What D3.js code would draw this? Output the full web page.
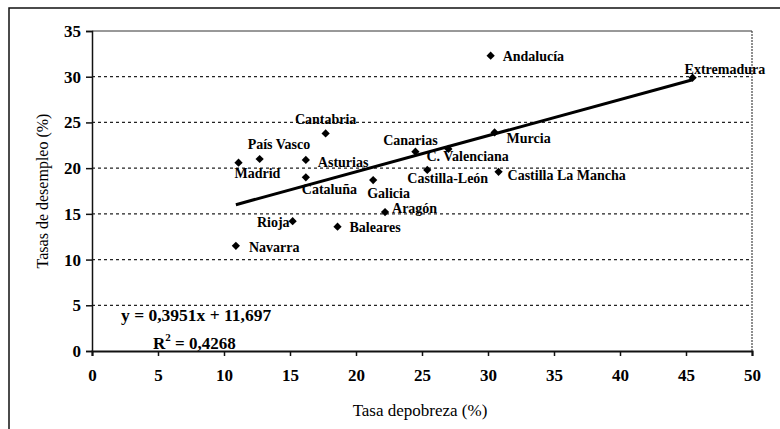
<!DOCTYPE html>
<meta charset="utf-8">
<style>
    body { margin: 0; background: #fff; }
    svg { font-family: 'Liberation Serif', 'Times New Roman', serif; }
</style>
<svg width="780" height="429"></svg>
<script src="https://d3js.org/d3.v7.min.js"></script>
<script>

    // data
    const regions = ["Andalucía", "Extremadura", "Murcia", "C. Valenciana", "Canarias", "Castilla-León",
        "Castilla La Mancha", "Cantabria", "País Vasco", "Madrid", "Asturias", "Cataluña",
        "Galicia", "Aragón", "Rioja", "Baleares", "Navarra"];
    const pobreza = [30.2, 45.5, 30.5, 27.0, 24.5, 25.4, 30.8, 17.7, 12.7, 11.1, 16.2, 16.2, 21.3, 22.2, 15.2, 18.6, 10.9];
    const desempleo = [32.3, 29.9, 23.9, 22.1, 21.8, 19.8, 19.6, 23.8, 21.0, 20.6, 20.9, 19.0, 18.7, 15.2, 14.2, 13.6, 11.5];
    const xTicks = [0, 5, 10, 15, 20, 25, 30, 35, 40, 45, 50];
    const yTicks = [0, 5, 10, 15, 20, 25, 30, 35];
    const slope = 0.3951, intercept = 11.697;
    const eqText = "y = 0,3951x + 11,697";
    const r2Text = "0,4268";

    // where each label sits around its point
    const labelPos = {
        "Andalucía": [12, 0, "start"],
        "Extremadura": [-8, -9, "start"],
        "Murcia": [12, 6, "start"],
        "C. Valenciana": [-22, 7, "start"],
        "Canarias": [-5, -12, "middle"],
        "Castilla-León": [-20, 8, "start"],
        "Castilla La Mancha": [9, 3, "start"],
        "Cantabria": [0, -14, "middle"],
        "País Vasco": [-12, -15, "start"],
        "Madrid": [-4, 10, "start"],
        "Asturias": [12, 2, "start"],
        "Cataluña": [-4, 12, "start"],
        "Galicia": [-6, 13, "start"],
        "Aragón": [7, -4, "start"],
        "Rioja": [-3, 1, "end"],
        "Baleares": [12, 0, "start"],
        "Navarra": [13, 1, "start"]
    };

    var svg = d3.select("svg");

    var x = d3.scaleLinear().domain([0, 50]).range([92, 752]);
    var y = d3.scaleLinear().domain([0, 35]).range([351, 31]);

    // outer frame (top and left edges only visible)
    svg.append("path").attr("d", "M9,429 L9,8 L780,8")
        .attr("fill", "none").attr("stroke", "#111").attr("stroke-width", 1.5);

    // gridlines
    svg.append("g").selectAll("line")
        .data(yTicks.filter(function (d) { return d > 0 && d < 35; }))
        .enter().append("line")
        .attr("x1", x(0)).attr("x2", x(50))
        .attr("y1", function (d) { return y(d); })
        .attr("y2", function (d) { return y(d); })
        .attr("stroke", "#222").attr("stroke-width", 1.2)
        .attr("stroke-dasharray", "3,3");

    // plot border top/right
    svg.append("line").attr("x1", x(0)).attr("x2", x(50)).attr("y1", y(35)).attr("y2", y(35))
        .attr("stroke", "#333").attr("stroke-width", 1);
    svg.append("line").attr("x1", x(50)).attr("x2", x(50)).attr("y1", y(35)).attr("y2", y(0))
        .attr("stroke", "#444").attr("stroke-width", 1.2).attr("stroke-dasharray", "2,1");

    // axes
    var xAxis = svg.append("g").attr("transform", "translate(0," + y(0) + ")")
        .call(d3.axisBottom(x).tickValues(xTicks).tickSize(5).tickPadding(13));
    var yAxis = svg.append("g").attr("transform", "translate(" + x(0) + ",0)")
        .call(d3.axisLeft(y).tickValues(yTicks).tickSize(6).tickPadding(5));

    xAxis.select(".domain").attr("stroke", "#111").attr("stroke-width", 2);
    yAxis.select(".domain").attr("stroke", "#111").attr("stroke-width", 1.5);
    svg.selectAll(".tick line").attr("stroke", "#111").attr("stroke-width", 1.5);
    svg.selectAll(".tick text")
        .style("font-family", "'Liberation Serif', serif")
        .style("font-size", "17px").style("font-weight", "bold").attr("fill", "#000");

    // regression line
    var xMin = d3.min(pobreza), xMax = d3.max(pobreza);
    svg.append("line")
        .attr("x1", x(xMin)).attr("y1", y(slope * xMin + intercept))
        .attr("x2", x(xMax)).attr("y2", y(slope * xMax + intercept))
        .attr("stroke", "#000").attr("stroke-width", 3);

    // points
    var pts = regions.map(function (r, i) { return { name: r, px: pobreza[i], py: desempleo[i] }; });

    svg.append("g").selectAll("path")
        .data(pts)
        .enter().append("path")
        .attr("d", d3.symbol().type(d3.symbolSquare).size(34))
        .attr("transform", function (d) { return "translate(" + x(d.px) + "," + y(d.py) + ") rotate(45)"; })
        .attr("fill", "#000");

    svg.append("g").selectAll("text")
        .data(pts)
        .enter().append("text")
        .attr("x", function (d) { return x(d.px) + labelPos[d.name][0]; })
        .attr("y", function (d) { return y(d.py) + labelPos[d.name][1]; })
        .attr("dy", "0.35em")
        .attr("text-anchor", function (d) { return labelPos[d.name][2]; })
        .style("font-size", "14px").style("font-weight", "bold")
        .attr("fill", "#000")
        .text(function (d) { return d.name; });

    // equation
    svg.append("text").attr("x", 121).attr("y", 315).attr("dy", "0.35em")
        .style("font-size", "17.5px").style("font-weight", "bold").attr("fill", "#000")
        .text(eqText);
    var r2 = svg.append("text").attr("x", 153).attr("y", 343).attr("dy", "0.35em")
        .style("font-size", "17px").style("font-weight", "bold").attr("fill", "#000");
    r2.append("tspan").text("R");
    r2.append("tspan").attr("dy", "-8").style("font-size", "11px").text("2");
    r2.append("tspan").attr("dy", "8").text(" = " + r2Text);

    // axis titles
    svg.append("text").attr("x", 420).attr("y", 410).attr("dy", "0.35em")
        .attr("text-anchor", "middle").style("font-size", "17px").attr("fill", "#000")
        .text("Tasa depobreza (%)");
    svg.append("text")
        .attr("transform", "translate(42," + ((y(0) + y(35)) / 2) + ") rotate(-90)")
        .attr("dy", "0.35em")
        .attr("text-anchor", "middle").style("font-size", "16px").attr("fill", "#000")
        .text("Tasas de desempleo (%)");

</script>
